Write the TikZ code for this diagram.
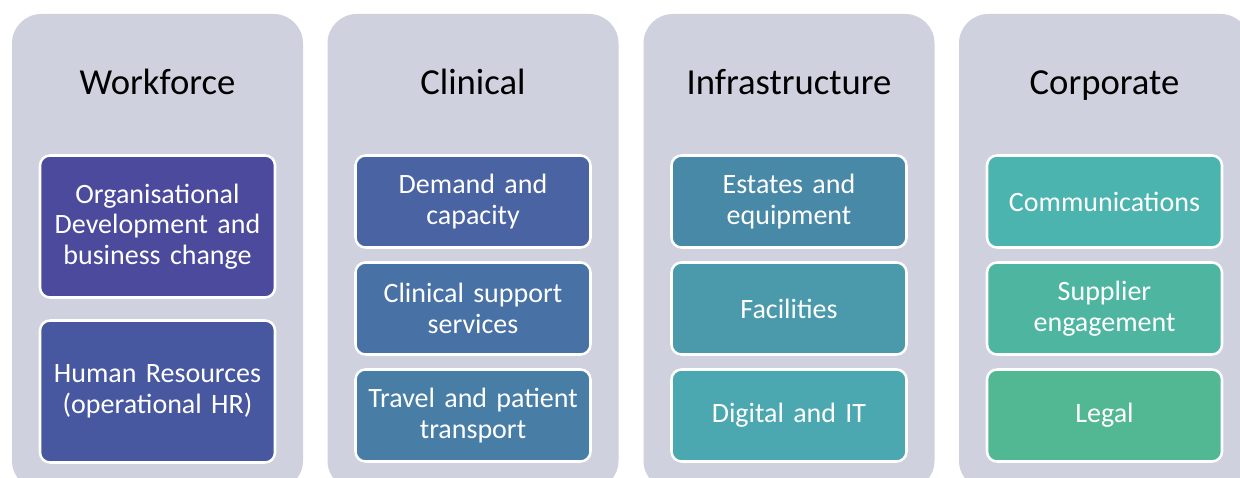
\documentclass[tikz,border=0pt]{standalone}
\usepackage{fontspec}
\setmainfont{Carlito}
\usepackage{tikz}
\usetikzlibrary{positioning}
\definecolor{panelbg}{RGB}{207,209,223}
\definecolor{wfA}{RGB}{75,74,157}
\definecolor{wfB}{RGB}{72,88,160}
\definecolor{clA}{RGB}{74,99,162}
\definecolor{clB}{RGB}{72,113,165}
\definecolor{clC}{RGB}{72,126,166}
\definecolor{inA}{RGB}{72,137,168}
\definecolor{inB}{RGB}{74,154,172}
\definecolor{inC}{RGB}{76,168,176}
\definecolor{coA}{RGB}{76,180,174}
\definecolor{coB}{RGB}{78,181,160}
\definecolor{coC}{RGB}{82,184,148}

\begin{document}
\begin{tikzpicture}[
  x=0.75pt, y=-0.75pt,
  node distance=11.25pt,
  panel/.style={rectangle, rounded corners=22pt, fill=panelbg, inner sep=0pt,
                minimum width=218.25pt, minimum height=357pt},
  heading/.style={anchor=base, font=\fontsize{27.5}{33}\selectfont, text=black},
  item/.style={rectangle, rounded corners=7.5pt, draw=white, line width=1.9pt,
               text=white, minimum width=176.25pt, minimum height=69pt,
               text width=172pt, align=center, inner sep=0pt, outer sep=0pt,
               font=\fontsize{21}{23}\selectfont},
  tall/.style={item, minimum height=106.5pt}
]
\clip (0,0) rectangle (1240,478);
\fill[white] (0,0) rectangle (1240,478);

% ---- Column A: Workforce ----
\node[panel] (wfpanel) at (157.5,252) {};
\node[heading] (wftitle) at (157.5,94) {Workforce};
\node[tall, fill=wfA, anchor=north] (orgdev) at (157.5,155.5) {Organisational\\Development and\\business change};
\node[tall, fill=wfB, below=17.25pt of orgdev] (hr) {Human Resources\\(operational HR)};

% ---- Column B: Clinical ----
\node[panel] (clpanel) at (473,252) {};
\node[heading] (cltitle) at (473,94) {Clinical};
\node[item, fill=clA, anchor=north] (demand) at (473,155.5) {Demand and\\capacity};
\node[item, fill=clB, below=of demand] (support) {Clinical support\\services};
\node[item, fill=clC, below=of support] (travel) {Travel and patient\\transport};

% ---- Column C: Infrastructure ----
\node[panel] (inpanel) at (789,252) {};
\node[heading] (intitle) at (789,94) {Infrastructure};
\node[item, fill=inA, anchor=north] (estates) at (789,155.5) {Estates and\\equipment};
\node[item, fill=inB, below=of estates] (facilities) {Facilities};
\node[item, fill=inC, below=of facilities] (digital) {Digital and IT};

% ---- Column D: Corporate ----
\node[panel] (copanel) at (1104.5,252) {};
\node[heading] (cotitle) at (1104.5,94) {Corporate};
\node[item, fill=coA, anchor=north] (comms) at (1104.5,155.5) {Communications};
\node[item, fill=coB, below=of comms] (supplier) {Supplier\\engagement};
\node[item, fill=coC, below=of supplier] (legal) {Legal};

\end{tikzpicture}
\end{document}
